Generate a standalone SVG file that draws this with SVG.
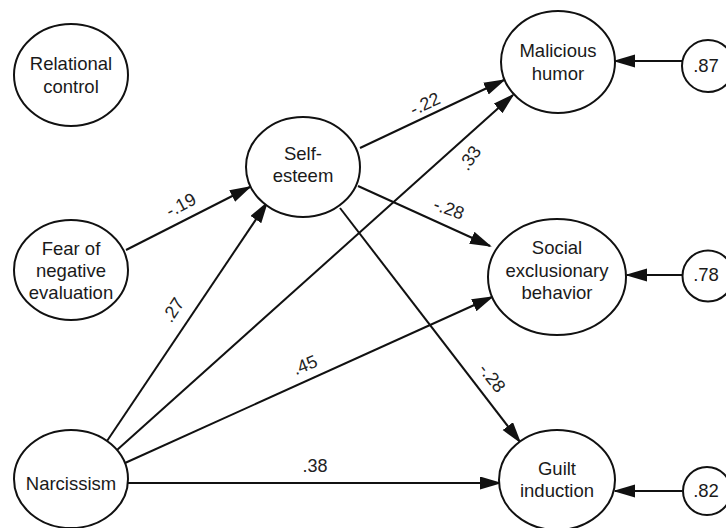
<svg xmlns="http://www.w3.org/2000/svg" width="726" height="528" viewBox="0 0 726 528">
<style>
.n{fill:#fff;stroke:#111;stroke-width:2}
.t{font-family:"Liberation Sans",Arial,sans-serif;font-size:18.5px;fill:#1a1a1a;text-anchor:middle}
.l{font-family:"Liberation Sans",Arial,sans-serif;font-size:18px;fill:#222;text-anchor:middle}
.e{stroke:#111;stroke-width:2;fill:none;marker-end:url(#ah)}
</style>
<defs>
<marker id="ah" markerUnits="userSpaceOnUse" markerWidth="23" markerHeight="14" refX="20" refY="6.5" orient="auto">
<path d="M0,0 L22,6.5 L0,13 z" fill="#111"/>
</marker>
</defs>
<rect width="726" height="528" fill="#fff"/>
<g id="connectors">
<line class="e" x1="126" y1="250" x2="250" y2="187"/>
<line class="e" x1="107" y1="441" x2="267" y2="203"/>
<line class="e" x1="117" y1="450" x2="513" y2="95"/>
<line class="e" x1="125" y1="463" x2="492" y2="297"/>
<line class="e" x1="128" y1="483" x2="500" y2="483"/>
<line class="e" x1="360" y1="148" x2="504" y2="80"/>
<line class="e" x1="358" y1="186" x2="490" y2="246"/>
<line class="e" x1="340" y1="208" x2="520" y2="442"/>
<line class="e" x1="682" y1="61" x2="615" y2="61"/>
<line class="e" x1="682" y1="275" x2="627" y2="275"/>
<line class="e" x1="682" y1="491" x2="615" y2="491"/>
<text class="l" transform="translate(181 205) rotate(-28)" dy="6">-.19</text>
<text class="l" transform="translate(173 310) rotate(-57)" dy="6">.27</text>
<text class="l" transform="translate(470 158) rotate(-55)" dy="6">.33</text>
<text class="l" transform="translate(305 365) rotate(-22)" dy="6">.45</text>
<text class="l" transform="translate(315 466)" dy="6">.38</text>
<text class="l" transform="translate(425 104) rotate(-25)" dy="6">-.22</text>
<text class="l" transform="translate(449 209) rotate(20)" dy="6">-.28</text>
<text class="l" transform="translate(492 378) rotate(52)" dy="6">-.28</text>
</g>
<g id="relational-control">
<ellipse class="n" cx="71" cy="75" rx="57" ry="51"/>
<text class="t" x="71" y="70">Relational</text>
<text class="t" x="71" y="93">control</text>
</g>
<g id="fear-of-negative-evaluation">
<ellipse class="n" cx="71" cy="270" rx="57" ry="50"/>
<text class="t" x="71" y="255">Fear of</text>
<text class="t" x="71" y="277">negative</text>
<text class="t" x="71" y="299">evaluation</text>
</g>
<g id="narcissism">
<ellipse class="n" cx="71" cy="479" rx="57" ry="49"/>
<text class="t" x="71" y="490">Narcissism</text>
</g>
<g id="self-esteem">
<ellipse class="n" cx="303" cy="167" rx="57" ry="50"/>
<text class="t" x="303" y="160">Self-</text>
<text class="t" x="303" y="182">esteem</text>
</g>
<g id="malicious-humor">
<ellipse class="n" cx="558" cy="62" rx="57" ry="51"/>
<text class="t" x="558" y="57">Malicious</text>
<text class="t" x="558" y="80">humor</text>
</g>
<g id="social-exclusionary-behavior">
<ellipse class="n" cx="557" cy="277" rx="69" ry="58"/>
<text class="t" x="557" y="254">Social</text>
<text class="t" x="557" y="277">exclusionary</text>
<text class="t" x="557" y="299">behavior</text>
</g>
<g id="guilt-induction">
<ellipse class="n" cx="557" cy="480" rx="58" ry="50"/>
<text class="t" x="557" y="475">Guilt</text>
<text class="t" x="557" y="497">induction</text>
</g>
<g id="e-malicious">
<circle class="n" cx="708" cy="66" r="26"/>
<text class="t" x="706" y="72">.87</text>
</g>
<g id="e-social">
<circle class="n" cx="708" cy="276" r="25.5"/>
<text class="t" x="706" y="281">.78</text>
</g>
<g id="e-guilt">
<circle class="n" cx="707" cy="491" r="24"/>
<text class="t" x="706" y="497">.82</text>
</g>
</svg>
